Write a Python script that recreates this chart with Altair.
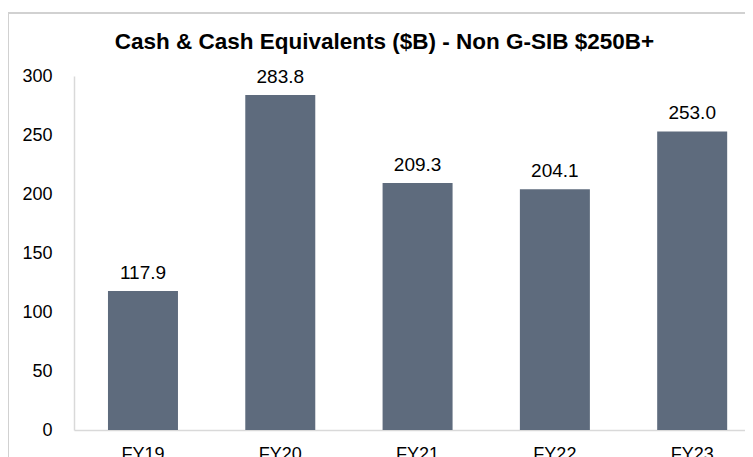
import altair as alt
import pandas as pd

categories = ["FY19", "FY20", "FY21", "FY22", "FY23"]
values = [117.9, 283.8, 209.3, 204.1, 253.0]
labels = ["117.9", "283.8", "209.3", "204.1", "253.0"]
y_ticks = [0, 50, 100, 150, 200, 250, 300]

df = pd.DataFrame({"cat": categories, "val": values, "lab": labels})

BAR = "#5e6b7d"
FONT = "Liberation Sans"

x_enc = alt.X(
    "cat:N",
    sort=categories,
    scale=alt.Scale(paddingInner=0.4902, paddingOuter=0.1886, align=0.656),
    axis=alt.Axis(
        title=None, labelAngle=0, ticks=False, labelPadding=15,
        labelFontSize=18, labelColor="#000000", labelFont=FONT,
        domainColor="#d9d9d9", domainWidth=1.5,
    ),
)
y_enc = alt.Y(
    "val:Q",
    scale=alt.Scale(domain=[0, 300], nice=False),
    axis=alt.Axis(
        title=None, values=y_ticks, ticks=False, grid=False, labelPadding=22,
        labelFontSize=18, labelColor="#000000", labelFont=FONT,
        domainColor="#d9d9d9", domainWidth=1.5,
    ),
)

bars = alt.Chart(df).mark_bar(color=BAR).encode(x=x_enc, y=y_enc)
text = alt.Chart(df).mark_text(
    dy=-12, baseline="alphabetic", fontSize=19, font=FONT, color="#000000"
).encode(x=alt.X("cat:N", sort=categories), y="val:Q", text="lab:N")

frame_top = alt.Chart(df).mark_rule(color="#d0d0d0", strokeWidth=1.5).encode(
    x=alt.value(-66), x2=alt.value(671), y=alt.value(-63)
)
frame_left = alt.Chart(df).mark_rule(color="#d0d0d0", strokeWidth=1.5).encode(
    x=alt.value(-66), y=alt.value(-63), y2=alt.value(400)
)

chart = alt.layer(frame_top, frame_left, bars, text).properties(
    width=671,
    height=354,
    autosize=alt.AutoSizeParams(type="none"),
    padding={"left": 66, "top": 68, "right": 0, "bottom": 27},
    title=alt.Title(
        "Cash & Cash Equivalents ($B) - Non G-SIB $250B+",
        font=FONT, fontSize=22.5, fontWeight="bold", color="#000000",
        anchor="middle", dx=-25, dy=59, offset=0, baseline="alphabetic",
    ),
).configure_view(stroke=None)

chart.save("out.html", embed_options={"renderer": "svg", "actions": False})
